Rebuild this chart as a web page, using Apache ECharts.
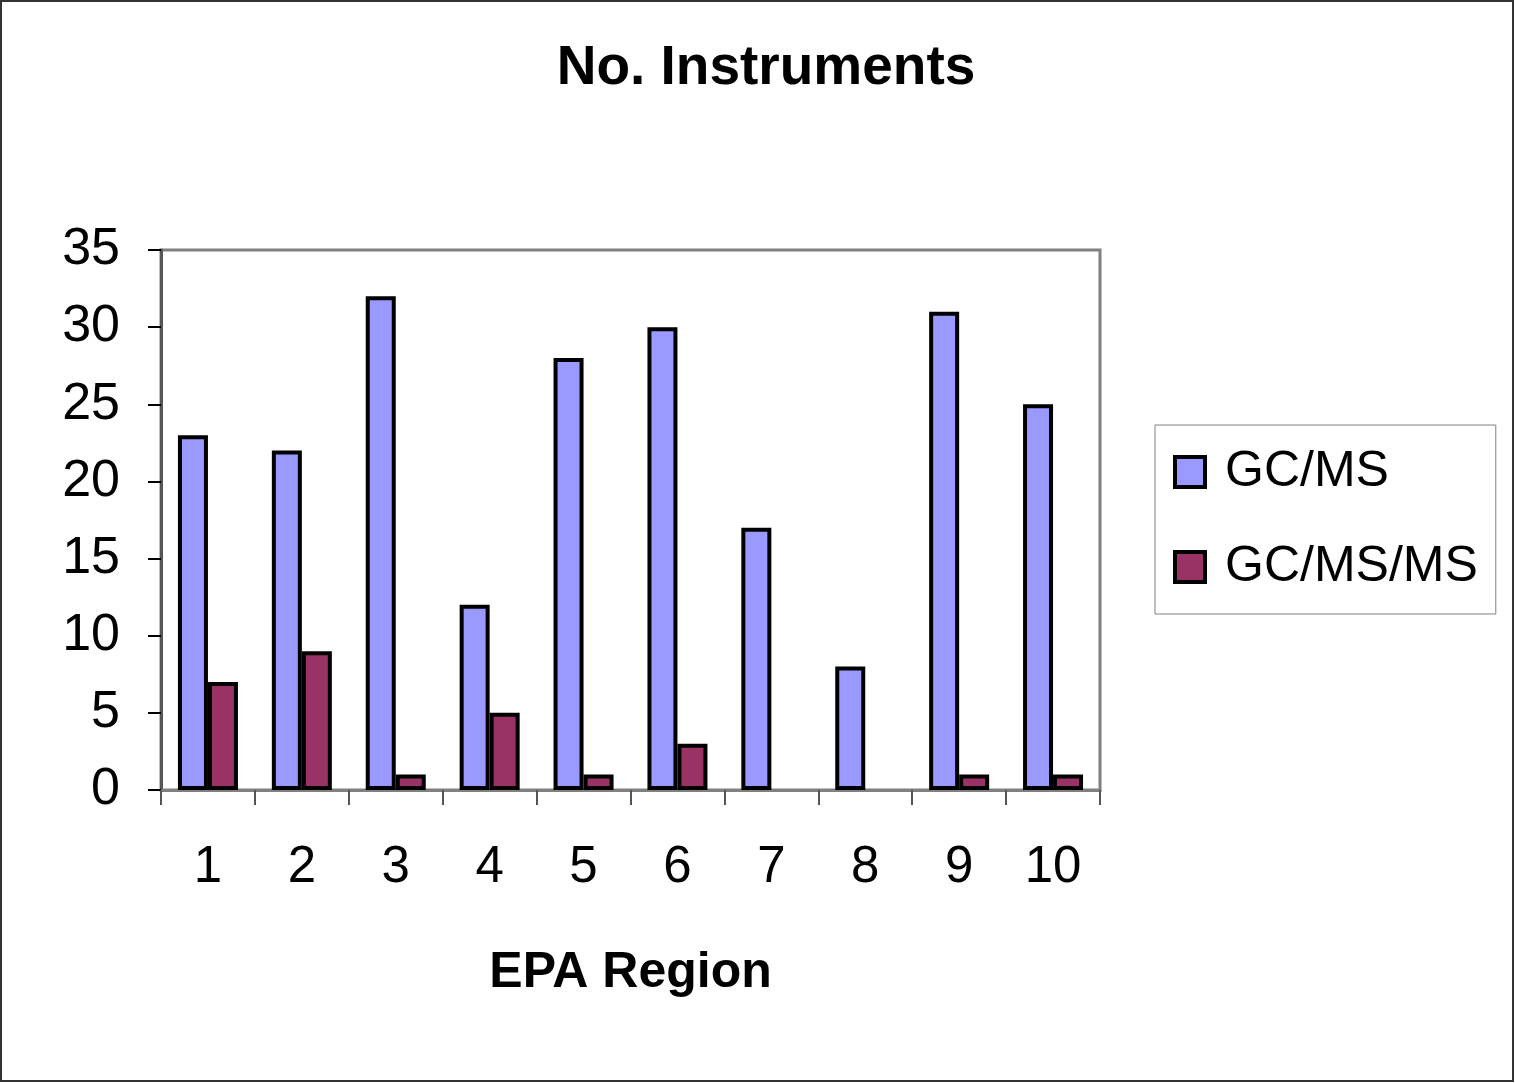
<!DOCTYPE html>
<html>
<head>
<meta charset="utf-8">
<script src="https://cdn.jsdelivr.net/npm/echarts@6/dist/echarts.min.js"></script>
<style>html,body{margin:0;padding:0;background:#fff}#c{width:1515px;height:1083px}</style>
</head>
<body>
<div id="c"></div>
<script>
const categories = ['1','2','3','4','5','6','7','8','9','10'];
const gcms = [23, 22, 32, 12, 28, 30, 17, 8, 31, 25];
const gcmsms = [7, 9, 1, 5, 1, 3, 0, 0, 1, 1];
const yTicks = [0, 5, 10, 15, 20, 25, 30, 35];

const hideZero = arr => arr.map(v => v === 0 ? {value: 0, itemStyle: {borderWidth: 0}} : v);

const chart = echarts.init(document.getElementById('c'), null, {renderer: 'canvas'});
const font = 'Liberation Sans, Arial, sans-serif';
chart.setOption({
  animation: false,
  backgroundColor: '#fff',
  title: {
    text: 'No. Instruments',
    left: 761, top: 36, textAlign: 'center',
    textStyle: {fontFamily: font, fontSize: 55, fontWeight: 'bold', color: '#000'}
  },
  graphic: [{
    type: 'rect', shape: {x: 1, y: 1, width: 1512, height: 1080},
    style: {fill: 'none', stroke: '#333', lineWidth: 2}, silent: true, z: 100
  }],
  legend: {
    orient: 'vertical', left: 1155, top: 425,
    padding: [22, 18, 22, 18],
    itemWidth: 30, itemHeight: 30, itemGap: 45,
    borderColor: '#808080', borderWidth: 1,
    icon: 'rect',
    textStyle: {fontFamily: font, fontSize: 50, color: '#000', padding: [0, 0, 0, 15]},
    itemStyle: {borderColor: '#000', borderWidth: 4}
  },
  grid: {
    left: 161, right: 415, top: 250, bottom: 293,
    show: true, borderColor: '#808080', borderWidth: 3, backgroundColor: '#fff'
  },
  xAxis: {
    type: 'category', data: categories,
    name: 'EPA Region', nameLocation: 'middle', nameGap: 158,
    nameTextStyle: {fontFamily: font, fontSize: 50, fontWeight: 'bold', color: '#000'},
    axisLine: {show: true, lineStyle: {color: '#808080', width: 3}},
    axisTick: {show: true, length: 15, lineStyle: {color: '#555', width: 2}},
    axisLabel: {fontFamily: font, fontSize: 51, color: '#000', margin: 52}
  },
  yAxis: {
    type: 'value', min: 0, max: 35, interval: 5,
    axisLine: {show: true, lineStyle: {color: '#555', width: 3}},
    axisTick: {show: true, length: 13, lineStyle: {color: '#000', width: 2}},
    splitLine: {show: false},
    axisLabel: {fontFamily: font, fontSize: 52, color: '#000', margin: 41,
      formatter: v => yTicks.includes(v) ? String(v) : ''}
  },
  series: [
    {
      name: 'GC/MS', type: 'bar', data: hideZero(gcms), barWidth: 30, barGap: '0%',
      itemStyle: {color: '#9999FF', borderColor: '#000', borderWidth: 4}
    },
    {
      name: 'GC/MS/MS', type: 'bar', data: hideZero(gcmsms), barWidth: 30,
      itemStyle: {color: '#993366', borderColor: '#000', borderWidth: 4}
    }
  ]
});
</script>
</body>
</html>
